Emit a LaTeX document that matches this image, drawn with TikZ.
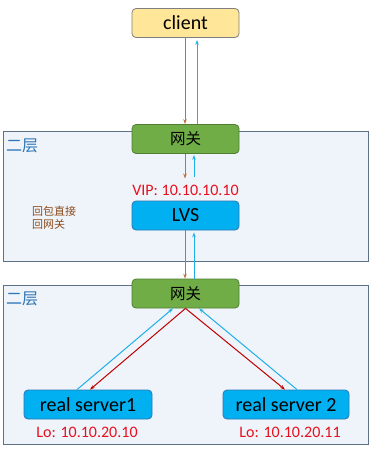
\documentclass[tikz,border=0pt]{standalone}
\usepackage{fontspec}
\setmainfont{Carlito}
\newfontfamily\cjk{Noto Sans CJK SC}
\usetikzlibrary{arrows.meta}
\definecolor{clientfill}{HTML}{FFE699}
\definecolor{clientdraw}{HTML}{7F7F7F}
\definecolor{gwfill}{HTML}{70AD47}
\definecolor{gwdraw}{HTML}{507E32}
\definecolor{bluefill}{HTML}{00B0F0}
\definecolor{bluedraw}{HTML}{2E75B6}
\definecolor{layerfill}{HTML}{EFF4FA}
\definecolor{layerdraw}{HTML}{5F7185}
\definecolor{layertext}{HTML}{2E75B6}
\definecolor{brownline}{HTML}{C0703A}
\definecolor{cyanline}{HTML}{1FB0E8}
\definecolor{redline}{HTML}{C00000}
\definecolor{redtext}{HTML}{E8101E}
\definecolor{browntext}{HTML}{8B4A1C}
\tikzset{
  box/.style={rectangle, rounded corners=4pt, line width=0.8pt, minimum width=107pt, minimum height=29pt, inner sep=0pt, font=\fontsize{20}{20}\selectfont},
  clientbox/.style={box, fill=clientfill, draw=clientdraw},
  gwbox/.style={box, fill=gwfill, draw=gwdraw, font=\cjk\fontsize{15.5}{15.5}\selectfont},
  bluebox/.style={box, fill=bluefill, draw=bluedraw},
  layerbox/.style={rectangle, fill=layerfill, draw=layerdraw, line width=0.7pt, inner sep=0pt},
  layerlabel/.style={anchor=west, text=layertext, font=\cjk\fontsize{16}{16}\selectfont, inner sep=0pt},
  iptext/.style={text=redtext, font=\fontsize{16}{16}\selectfont, inner sep=0pt},
  tip/.style={-{Stealth[length=5pt,width=3.5pt]}, line width=1pt},
  brownarrow/.style={tip, draw=brownline},
  cyanarrow/.style={tip, draw=cyanline},
  redarrow/.style={tip, draw=redline},
}
\begin{document}
\begin{tikzpicture}[x=1pt,y=-1pt]
\useasboundingbox (0,0) rectangle (372,450);
% layer boxes
\node[layerbox, minimum width=365pt, minimum height=130pt] (layer1) at (185.5,196) {};
\node[layerbox, minimum width=365pt, minimum height=159pt] (layer2) at (185.5,364.5) {};
\node[layerlabel] (l1label) at (6,146) {二层};
\node[layerlabel] (l2label) at (6,299) {二层};
% nodes
\node[clientbox] (client) at (185.5,23) {client};
\node[gwbox] (gw1) at (185.5,139) {网关};
\node[iptext] (vip) at (185.5,190) {VIP: 10.10.10.10};
\node[bluebox] (lvs) at (185.5,215.5) {LVS};
\node[gwbox] (gw2) at (185.5,293.5) {网关};
\node[bluebox, minimum width=128pt] (rs1) at (88,404.5) {real server1};
\node[bluebox, minimum width=126pt] (rs2) at (286,404.5) {real server 2};
\node[iptext] (lo1) at (87,432) {Lo: 10.10.20.10};
\node[iptext] (lo2) at (290,432) {Lo: 10.10.20.11};
\node[anchor=west, text=browntext, font=\cjk\fontsize{11}{13}\selectfont, align=left, inner sep=0pt] (note) at (32,217.5) {回包直接\\回网关};
% arrows
\draw[brownarrow] ([xshift=-0.5pt]client.south) -- ([xshift=-0.5pt]gw1.north);
\draw[cyanarrow] ([xshift=11.5pt]gw1.north) -- ([xshift=11.5pt,yshift=-2pt]client.south);
\draw[brownarrow] ([xshift=-0.5pt]gw1.south) -- ([xshift=-0.5pt,yshift=6pt]vip.north);
\draw[cyanarrow] ([xshift=8.5pt,yshift=8pt]vip.north) -- ([xshift=8.5pt,yshift=-1pt]gw1.south);
\draw[brownarrow] ([xshift=-0.5pt]lvs.south) -- ([xshift=-0.5pt]gw2.north);
\draw[cyanarrow] ([xshift=8.5pt]gw2.north) -- ([xshift=8.5pt,yshift=-2pt]lvs.south);
\draw[redarrow] (gw2.south) -- ([xshift=2pt]rs1.north);
\draw[cyanarrow] ([xshift=-11pt]rs1.north) -- ([xshift=-12.5pt]gw2.south);
\draw[redarrow] (gw2.south) -- ([xshift=-1pt]rs2.north);
\draw[cyanarrow] ([xshift=11pt]rs2.north) -- ([xshift=13.5pt]gw2.south);
\end{tikzpicture}
\end{document}
